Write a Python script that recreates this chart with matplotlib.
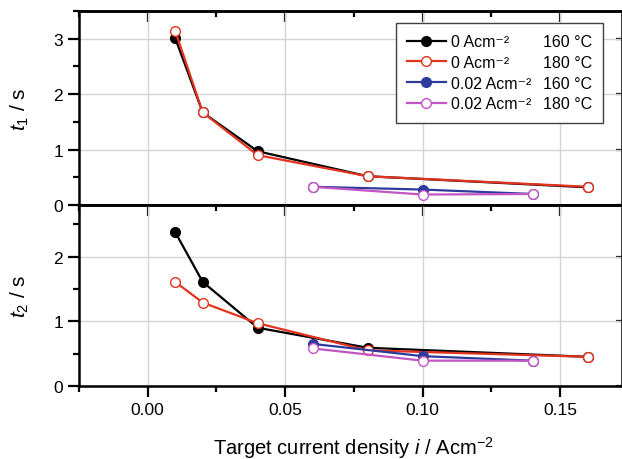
import matplotlib
matplotlib.use("Agg")
import matplotlib.pyplot as plt
from matplotlib.lines import Line2D
from matplotlib.ticker import MultipleLocator

plt.rcParams['font.family'] = ['Liberation Sans', 'DejaVu Sans']
plt.rcParams['mathtext.fontset'] = 'custom'
plt.rcParams['mathtext.rm'] = 'Liberation Sans'
plt.rcParams['mathtext.it'] = 'Liberation Sans:italic'

# current densities (A cm-2)
x_0 = [0.01, 0.02, 0.04, 0.08, 0.16]
x_002 = [0.06, 0.10, 0.14]

# t1 / s
t1_0_160 = [3.01, 1.67, 0.97, 0.52, 0.32]
t1_0_180 = [3.14, 1.67, 0.90, 0.52, 0.33]
t1_002_160 = [0.33, 0.28, 0.20]
t1_002_180 = [0.33, 0.19, 0.20]

# t2 / s
t2_0_160 = [2.38, 1.61, 0.90, 0.59, 0.45]
t2_0_180 = [1.61, 1.29, 0.97, 0.55, 0.45]
t2_002_160 = [0.65, 0.46, 0.39]
t2_002_180 = [0.58, 0.39, 0.39]

labels = ["0 Acm\u207b\u00b2", "0 Acm\u207b\u00b2", "0.02 Acm\u207b\u00b2", "0.02 Acm\u207b\u00b2"]
temps = ["160 \u00b0C", "180 \u00b0C", "160 \u00b0C", "180 \u00b0C"]

black = "black"
red = "#e2331f"
blue = "#2e3b9c"
magenta = "#c255c2"


def draw_panel(ax, s1, s2, s3, s4):
    h = []
    h += ax.plot(x_0, s1, color=black, lw=1.6, marker='o', ms=7, mfc=black, mec=black, zorder=3)
    h += ax.plot(x_0, s2, color=red, lw=1.6, marker='o', ms=7, mfc='white', mec=red, zorder=4)
    h += ax.plot(x_002, s3, color=blue, lw=1.6, marker='o', ms=7, mfc=blue, mec=blue, zorder=5)
    h += ax.plot(x_002, s4, color=magenta, lw=1.6, marker='o', ms=7, mfc='white', mec=magenta, zorder=6)
    return h


def style_axes(ax, ymax):
    ax.set_xlim(-0.025, 0.1725)
    ax.set_ylim(0, ymax)
    ax.xaxis.set_major_locator(MultipleLocator(0.05))
    ax.xaxis.set_minor_locator(MultipleLocator(0.025))
    ax.yaxis.set_major_locator(MultipleLocator(1))
    ax.yaxis.set_minor_locator(MultipleLocator(0.5))
    ax.grid(True, which='major', color='#d4d4d4', lw=1.0)
    ax.set_axisbelow(True)
    for s in ax.spines.values():
        s.set_linewidth(1.8)
    ax.tick_params(which='major', direction='out', length=8, width=1.6, labelsize=12.5)
    ax.tick_params(which='minor', direction='out', length=4.5, width=1.6)
    # inward ticks on top and right
    top = ax.secondary_xaxis('top')
    top.xaxis.set_major_locator(MultipleLocator(0.05))
    top.xaxis.set_minor_locator(MultipleLocator(0.025))
    top.tick_params(which='major', direction='in', length=8, width=1.6, labeltop=False)
    top.tick_params(which='minor', direction='in', length=4.5, width=1.6)
    top.spines['top'].set_linewidth(1.8)
    right = ax.secondary_yaxis('right')
    right.yaxis.set_major_locator(MultipleLocator(1))
    right.yaxis.set_minor_locator(MultipleLocator(0.5))
    right.tick_params(which='major', direction='in', length=4, width=1.6, labelright=False)
    right.tick_params(which='minor', direction='in', length=0)


fig = plt.figure(figsize=(6.22, 4.6), dpi=100)
ax1 = fig.add_axes([0.127, 0.552, 0.873, 0.422])
ax2 = fig.add_axes([0.127, 0.159, 0.873, 0.393])

handles = draw_panel(ax1, t1_0_160, t1_0_180, t1_002_160, t1_002_180)
draw_panel(ax2, t2_0_160, t2_0_180, t2_002_160, t2_002_180)

style_axes(ax1, 3.5)
style_axes(ax2, 2.8)
ax1.tick_params(axis='x', labelbottom=False)

ax1.set_ylabel("$t_1$ / s", fontsize=15)
ax2.set_ylabel("$t_2$ / s", fontsize=15)
ax1.yaxis.set_label_coords(-0.088, 0.5)
ax2.yaxis.set_label_coords(-0.088, 0.5)
ax2.set_xlabel("Target current density $i$ / Acm$^{-2}$", fontsize=14.5)
ax2.xaxis.set_label_coords(0.505, -0.265)

blank = [Line2D([], [], linestyle='none') for _ in temps]
leg = ax1.legend(handles + blank, labels + temps, ncol=2, loc='upper right',
                 bbox_to_anchor=(0.965, 0.938), borderaxespad=0, fontsize=11.5,
                 handlelength=2.4, handletextpad=0.35, columnspacing=-2.05,
                 labelspacing=0.36, fancybox=False, framealpha=1,
                 edgecolor='#404040', borderpad=0.7)
leg.get_frame().set_linewidth(1.0)
leg.set_zorder(10)

fig.savefig("out.png", dpi=100)
